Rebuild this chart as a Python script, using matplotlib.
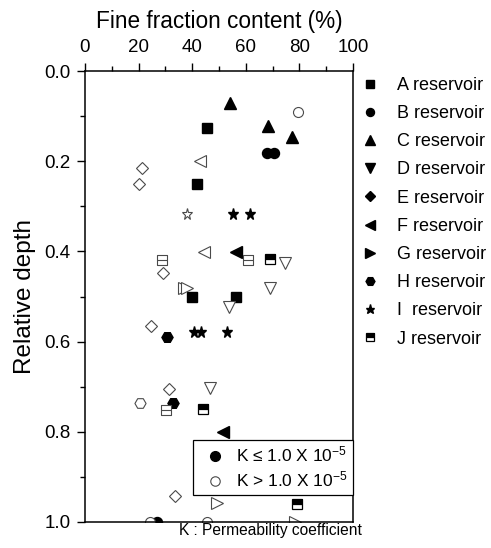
import matplotlib
matplotlib.use("Agg")
import matplotlib.pyplot as plt
from matplotlib.lines import Line2D
from matplotlib.path import Path

plt.rcParams["font.family"] = ["Liberation Sans", "DejaVu Sans"]
plt.rcParams["mathtext.fontset"] = "custom"
plt.rcParams["mathtext.rm"] = "Liberation Sans"
plt.rcParams["mathtext.it"] = "Liberation Sans:italic"

# (fine fraction %, relative depth) per reservoir, split by permeability
A_low_k = [(45.4, 0.126), (41.7, 0.251), (40.0, 0.500), (56.2, 0.500)]
A_high_k = []
B_low_k = [(68.0, 0.182), (70.5, 0.182), (26.7, 1.000)]
B_high_k = [(79.4, 0.091), (24.3, 1.000), (45.4, 1.000)]
C_low_k = [(54.2, 0.072), (68.3, 0.123), (77.2, 0.147)]
C_high_k = []
D_low_k = []
D_high_k = [(74.7, 0.425), (69.0, 0.482), (53.8, 0.524), (46.8, 0.702)]
E_low_k = []
E_high_k = [(21.3, 0.214), (20.1, 0.250), (29.1, 0.447), (24.5, 0.565),
            (31.2, 0.705), (33.6, 0.942)]
F_low_k = [(56.2, 0.401), (51.4, 0.801)]
F_high_k = [(42.9, 0.200), (44.4, 0.401)]
G_low_k = []
G_high_k = [(36.8, 0.482), (38.0, 0.482), (49.4, 0.957), (78.4, 1.000)]
H_low_k = [(30.7, 0.589), (33.0, 0.737)]
H_high_k = [(20.4, 0.737)]
I_low_k = [(55.1, 0.317), (61.6, 0.317), (40.5, 0.579), (43.3, 0.579),
           (52.9, 0.579)]
I_high_k = [(37.9, 0.317)]
J_low_k = [(68.9, 0.417), (44.2, 0.750), (79.2, 0.959)]
J_high_k = [(28.8, 0.418), (60.7, 0.419), (30.2, 0.752)]

reservoirs = ["A", "B", "C", "D", "E", "F", "G", "H", "I", "J"]
low_k = [A_low_k, B_low_k, C_low_k, D_low_k, E_low_k,
         F_low_k, G_low_k, H_low_k, I_low_k, J_low_k]
high_k = [A_high_k, B_high_k, C_high_k, D_high_k, E_high_k,
          F_high_k, G_high_k, H_high_k, I_high_k, J_high_k]

x_ticks = [0, 20, 40, 60, 80, 100]
y_ticks = [0.0, 0.2, 0.4, 0.6, 0.8, 1.0]

# open J marker: square with a line through the middle
split_square = Path(
    [(-1, -1), (1, -1), (1, 1), (-1, 1), (-1, -1), (-1, 0), (1, 0)],
    [Path.MOVETO, Path.LINETO, Path.LINETO, Path.LINETO, Path.CLOSEPOLY,
     Path.MOVETO, Path.LINETO],
)

markers = ["s", "o", "^", "v", "D", "<", ">", "H", "*", "s"]
sizes = [6.5, 7.2, 8.5, 8.5, 6.4, 8.5, 8.5, 8.0, 8.2, 7.0]
open_color = "#4a4a4a"

fig = plt.figure(figsize=(4.91, 5.48), dpi=100)
ax = fig.add_axes([85 / 491, 1 - 522 / 548, 268 / 491, 451 / 548])

for i, name in enumerate(reservoirs):
    m, ms = markers[i], sizes[i]
    if low_k[i]:
        xs, ds = zip(*low_k[i])
        if name == "J":
            ax.plot(xs, ds, ls="none", marker="s", ms=ms, fillstyle="top",
                    mfc="black", mfcalt="white", mec="black", mew=0.9)
        else:
            ax.plot(xs, ds, ls="none", marker=m, ms=ms, color="black")
    if high_k[i]:
        xs, ds = zip(*high_k[i])
        mk = split_square if name == "J" else m
        ax.plot(xs, ds, ls="none", marker=mk, ms=ms, mfc="white",
                mec=open_color, mew=0.8)

ax.set_xlim(0, 100)
ax.set_ylim(1.0, 0.0)
ax.set_xticks(x_ticks)
ax.set_xticks(range(10, 100, 20), minor=True)
ax.set_yticks(y_ticks)
ax.set_yticks([0.1, 0.3, 0.5, 0.7, 0.9], minor=True)
ax.set_yticklabels([f"{v:.1f}" for v in y_ticks])

ax.xaxis.tick_top()
ax.xaxis.set_label_position("top")
ax.tick_params(axis="both", which="major", direction="out", length=6,
               width=1, labelsize=13.5, pad=4.5)
ax.tick_params(axis="both", which="minor", direction="out", length=3.5,
               width=1)
ax.tick_params(axis="x", which="both", top=True, bottom=False)
ax.tick_params(axis="y", which="both", left=True, right=False)
for sp in ax.spines.values():
    sp.set_linewidth(1.1)

ax.set_xlabel("Fine fraction content (%)", fontsize=16.3, labelpad=8)
ax.set_ylabel("Relative depth", fontsize=17.5, labelpad=6)

# reservoir legend to the right of the axes
res_handles = []
for i, name in enumerate(reservoirs):
    if name == "J":
        h = Line2D([], [], ls="none", marker="s", ms=sizes[i] * 0.8,
                   fillstyle="top", mfc="black", mfcalt="white",
                   mec="black", mew=0.9)
    else:
        h = Line2D([], [], ls="none", marker=markers[i],
                   ms=sizes[i] * 0.8, color="black")
    res_handles.append(h)
res_labels = [f"{n}  reservoir" if n == "I" else f"{n} reservoir"
              for n in reservoirs]
leg1 = ax.legend(res_handles, res_labels, loc="upper left",
                 bbox_to_anchor=(1.03, 0.987), frameon=False, fontsize=13,
                 handlelength=1.0, handletextpad=1.0, labelspacing=0.62,
                 borderpad=0, borderaxespad=0)
ax.add_artist(leg1)

# permeability legend inside the axes
k_handles = [
    Line2D([], [], ls="none", marker="o", ms=7.0, color="black"),
    Line2D([], [], ls="none", marker="o", ms=6.8, mfc="white",
           mec=open_color, mew=0.8),
]
k_labels = [r"K ≤ 1.0 X 10$^{-5}$", r"K > 1.0 X 10$^{-5}$"]
leg2 = ax.legend(k_handles, k_labels, loc="lower right",
                 bbox_to_anchor=(1.0, 0.06), fontsize=12.5, frameon=True,
                 fancybox=False, edgecolor="black", framealpha=1,
                 handlelength=2.0, handletextpad=0.2, labelspacing=0.3,
                 borderpad=0.3, borderaxespad=0)
leg2.get_frame().set_linewidth(0.9)

fig.text(362 / 491, 1 - 530 / 548, "K : Permeability coefficient",
         ha="right", va="center", fontsize=11.2)

fig.savefig("out.png", dpi=100)
plt.close(fig)
